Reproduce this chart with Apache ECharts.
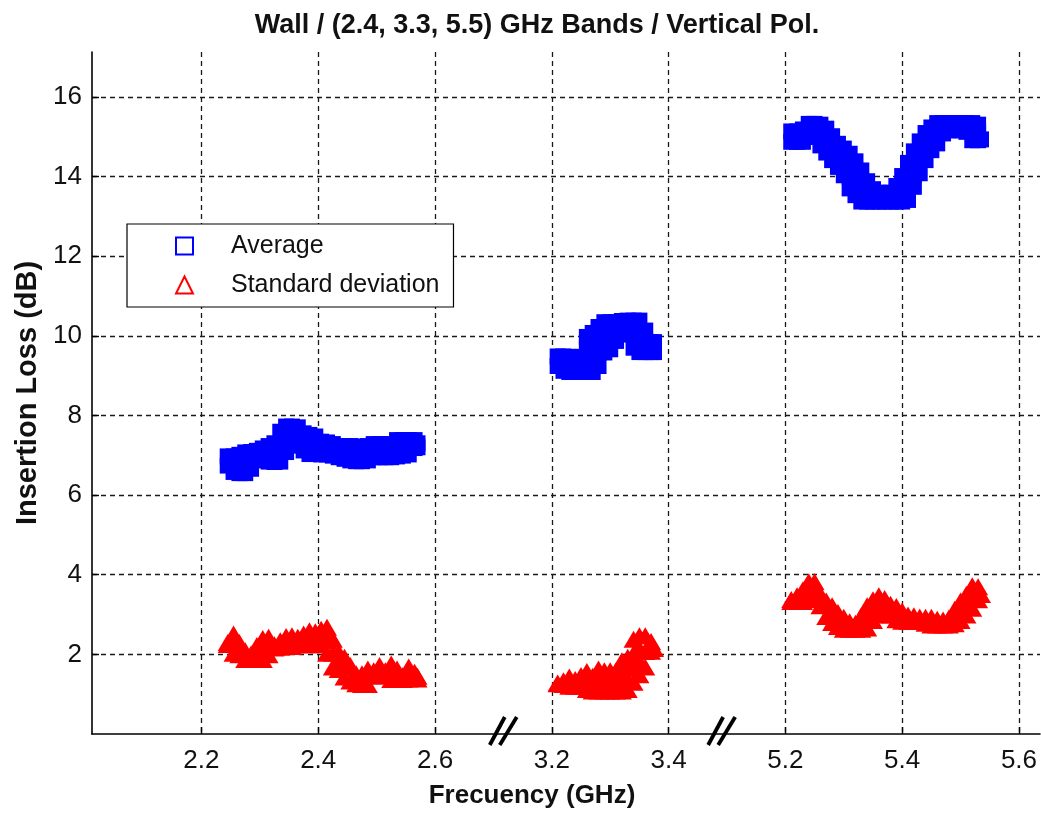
<!DOCTYPE html>
<html>
<head>
<meta charset="utf-8">
<script src="https://cdn.jsdelivr.net/npm/echarts@6/dist/echarts.min.js"></script>
<style>
  html, body { margin: 0; padding: 0; background: #ffffff; }
  #chart { width: 1041px; height: 814px; }
</style>
</head>
<body>
<div id="chart"></div>
<script>
// Broken frequency axis: three bands laid side by side, one axis unit per 0.2 GHz.
const bandStarts = [2.2, 3.2, 5.2];
const bandOffsets = [0, 3, 5];
const tickStep = 0.2;
const tickLabels = ['2.2', '2.4', '2.6', '3.2', '3.4', '5.2', '5.4', '5.6'];
const axisBreaks = [2.58, 4.45];
const yTicks = [2, 4, 6, 8, 10, 12, 14, 16];

// 2.4 GHz band
const freq24 = [2.245, 2.255, 2.265, 2.275, 2.285, 2.295, 2.305, 2.315, 2.325, 2.335,
                2.345, 2.355, 2.365, 2.375, 2.385, 2.395, 2.405, 2.415, 2.425, 2.435,
                2.445, 2.455, 2.465, 2.475, 2.485, 2.495, 2.505, 2.515, 2.525, 2.535,
                2.545, 2.555, 2.565, 2.57];
const avg24 = [[6.74, 6.97], [6.58, 6.97], [6.55, 6.78, 7.01], [6.55, 6.81, 7.07], [6.66, 6.87, 7.08],
               [6.87, 7.11], [6.89, 7.17], [6.84, 7.23], [6.83, 7.06, 7.30], [6.84, 7.22, 7.59],
               [7.08, 7.40, 7.72], [7.24, 7.48, 7.72], [7.33, 7.70], [7.12, 7.34, 7.55], [7.03, 7.27, 7.51],
               [7.03, 7.25, 7.47], [7.02, 7.34], [7.02, 7.32], [6.99, 7.28], [6.95, 7.23],
               [6.91, 7.23], [6.87, 7.23], [6.85, 7.22], [6.85, 7.17], [6.87, 7.23],
               [6.95, 7.28], [6.95, 7.28], [6.95, 7.28], [6.95, 7.26], [6.97, 7.17, 7.38],
               [6.99, 7.38], [7.02, 7.38], [7.18, 7.38], [7.20, 7.30]];
const std24 = [[2.25, 2.30], [2.03, 2.27, 2.51], [1.99, 2.30], [1.87, 2.09], [1.87, 2.01],
               [1.87, 2.22], [1.87, 2.13, 2.40], [1.99, 2.21, 2.43], [2.16, 2.24], [2.18, 2.34],
               [2.20, 2.45], [2.20, 2.47], [2.24, 2.43], [2.24, 2.51], [2.24, 2.59],
               [2.28, 2.57], [2.24, 2.63], [2.03, 2.35, 2.68], [1.68, 2.03, 2.38], [1.62, 1.83, 2.05],
               [1.43, 1.68, 1.93], [1.33, 1.72], [1.26, 1.51], [1.24, 1.51], [1.24, 1.63],
               [1.45, 1.59], [1.49, 1.72], [1.47, 1.59], [1.37, 1.76], [1.37, 1.63],
               [1.37, 1.47], [1.38, 1.68], [1.41, 1.55], [1.38, 1.45]];

// 3.3 GHz band
const freq33 = [3.21, 3.22, 3.23, 3.24, 3.25, 3.26, 3.27, 3.28, 3.29, 3.30,
                3.31, 3.32, 3.33, 3.34, 3.35, 3.36, 3.37, 3.375];
const avg33 = [[9.24, 9.48], [9.12, 9.48], [9.09, 9.47], [9.09, 9.43], [9.09, 9.47],
               [9.09, 9.38, 9.68, 9.97], [9.09, 9.42, 9.75, 10.07], [9.24, 9.57, 9.90, 10.22],
               [9.58, 9.96, 10.34], [9.66, 10.00, 10.34], [9.87, 10.10, 10.34], [10.06, 10.37],
               [10.03, 10.38], [9.70, 10.04, 10.38], [9.59, 9.98, 10.38], [9.59, 9.86, 10.13],
               [9.59, 9.84], [9.59, 9.84]];
const std33 = [[1.26, 1.28], [1.24, 1.34], [1.20, 1.43], [1.20, 1.37], [1.20, 1.47],
               [1.12, 1.35, 1.57], [1.08, 1.27, 1.45], [1.08, 1.36, 1.63], [1.08, 1.34, 1.59],
               [1.08, 1.34, 1.59], [1.08, 1.34, 1.59], [1.08, 1.33, 1.59, 1.84],
               [1.12, 1.39, 1.66, 1.93], [1.30, 1.66, 2.02, 2.38], [1.49, 1.82, 2.14, 2.47],
               [1.68, 2.07, 2.47], [2.08, 2.32], [2.15]];

// 5.5 GHz band
const freq55 = [5.21, 5.22, 5.23, 5.24, 5.25, 5.26, 5.27, 5.28, 5.29, 5.30,
                5.31, 5.32, 5.33, 5.34, 5.35, 5.36, 5.37, 5.38, 5.39, 5.40,
                5.41, 5.42, 5.43, 5.44, 5.45, 5.46, 5.47, 5.48, 5.49, 5.50,
                5.51, 5.52, 5.53, 5.535];
const avg55 = [[14.87, 15.13], [14.87, 15.13], [14.87, 15.18], [15.03, 15.32], [14.99, 15.32],
               [14.78, 15.04, 15.30], [14.60, 14.90, 15.20], [14.41, 14.71, 15.01], [14.24, 14.53, 14.82],
               [14.03, 14.37, 14.70], [13.70, 13.99, 14.28, 14.57], [13.53, 13.81, 14.10, 14.38],
               [13.37, 13.63, 13.89, 14.15], [13.37, 13.63, 13.88], [13.37, 13.68], [13.37, 13.59],
               [13.37, 13.59], [13.37, 13.59], [13.37, 13.56, 13.76], [13.37, 13.58, 13.80, 14.01],
               [13.41, 13.72, 14.03, 14.34], [13.74, 14.04, 14.34, 14.63], [14.08, 14.48, 14.88],
               [14.41, 14.75, 15.09], [14.66, 14.95, 15.23], [14.83, 15.08, 15.34], [15.08, 15.34],
               [15.16, 15.34], [15.16, 15.34], [15.16, 15.34], [15.12, 15.34], [14.91, 15.12, 15.34],
               [14.91, 15.10, 15.30], [14.93]];
const std55 = [[3.33, 3.38], [3.33, 3.47], [3.33, 3.62], [3.37, 3.60, 3.82], [3.38, 3.60, 3.82],
               [3.22, 3.51], [2.95, 3.34], [2.80, 3.01, 3.22], [2.70, 3.05], [2.63, 2.93],
               [2.63, 2.82], [2.63, 2.78], [2.63, 2.97], [2.66, 2.94, 3.22], [2.85, 3.11, 3.37],
               [2.99, 3.23, 3.47], [3.12, 3.40], [2.99, 3.26], [2.87, 3.20], [2.83, 3.09],
               [2.83, 2.99], [2.83, 2.97], [2.83, 2.94], [2.78, 2.93], [2.74, 2.93],
               [2.74, 2.88], [2.74, 2.86], [2.74, 2.91], [2.77, 2.95, 3.13], [2.85, 3.10, 3.34],
               [2.99, 3.25, 3.51], [3.16, 3.44, 3.72], [3.37, 3.70], [3.50]];

const FONT = "'Liberation Sans', Arial, Helvetica, sans-serif";
const INK = '#111111';
const BLUE = '#0000ff';
const RED = '#ff0000';

function toAxis(band, f) {
  return bandOffsets[band] + (f - bandStarts[band]) / tickStep;
}

function buildPoints(bands) {
  const pts = [];
  bands.forEach(function (b, band) {
    b.freq.forEach(function (f, i) {
      b.values[i].forEach(function (v) { pts.push([toAxis(band, f), v]); });
    });
  });
  return pts;
}

const avgPoints = buildPoints([
  { freq: freq24, values: avg24 },
  { freq: freq33, values: avg33 },
  { freq: freq55, values: avg55 }
]);
const stdPoints = buildPoints([
  { freq: freq24, values: std24 },
  { freq: freq33, values: std33 },
  { freq: freq55, values: std55 }
]);

const chart = echarts.init(document.getElementById('chart'), null, { renderer: 'canvas' });

const xTickPositions = tickLabels.map(function (_, i) { return i; });
const gridDash = { color: '#1a1a1a', width: 1.3, type: [5, 4] };

chart.setOption({
  animation: false,
  backgroundColor: '#ffffff',
  title: {
    text: 'Wall / (2.4, 3.3, 5.5) GHz Bands / Vertical Pol.',
    left: 532,
    textAlign: 'center',
    top: 7,
    textStyle: { fontFamily: FONT, fontSize: 27, fontWeight: 'bold', color: INK }
  },
  grid: { left: 92, right: 1, top: 52, bottom: 77, containLabel: false },
  legend: {
    orient: 'vertical',
    left: 127,
    top: 224,
    padding: [9, 14, 9, 48],
    itemGap: 13,
    itemWidth: 17,
    itemHeight: 17,
    backgroundColor: '#ffffff',
    borderColor: '#000000',
    borderWidth: 1.2,
    borderRadius: 0,
    textStyle: { fontFamily: FONT, fontSize: 25, color: INK, lineHeight: 26, padding: [0, 0, 0, 33] },
    data: [
      { name: 'Average', icon: 'emptyRect', itemStyle: { color: BLUE, borderColor: BLUE, borderWidth: 1.6 } },
      { name: 'Standard deviation', icon: 'emptyTriangle', itemStyle: { color: RED, borderColor: RED, borderWidth: 1.6 } }
    ]
  },
  xAxis: {
    type: 'value',
    min: -0.937,
    max: 7.18,
    name: 'Frecuency (GHz)',
    nameLocation: 'middle',
    nameGap: 49,
    nameTextStyle: { fontFamily: FONT, fontSize: 26, fontWeight: 'bold', color: INK, padding: [0, 68, 0, 0] },
    axisLine: { show: true, onZero: false, lineStyle: { color: '#000000', width: 1.6 } },
    axisTick: { show: true, inside: true, length: 7, customValues: xTickPositions, lineStyle: { color: '#000000', width: 1.4 } },
    axisLabel: {
      customValues: xTickPositions,
      margin: 14,
      fontFamily: FONT, fontSize: 26, color: INK,
      formatter: function (v) { return tickLabels[Math.round(v)]; }
    },
    splitLine: { show: true, lineStyle: gridDash }
  },
  yAxis: {
    type: 'value',
    min: 0,
    max: 17.125,
    name: 'Insertion Loss (dB)',
    nameLocation: 'middle',
    nameRotate: 90,
    nameGap: 42,
    nameTextStyle: { fontFamily: FONT, fontSize: 29, fontWeight: 'bold', color: INK },
    axisLine: { show: true, onZero: false, lineStyle: { color: '#000000', width: 1.6 } },
    axisTick: { show: true, inside: true, length: 7, customValues: yTicks, lineStyle: { color: '#000000', width: 1.4 } },
    axisLabel: { customValues: yTicks, margin: 10, fontFamily: FONT, fontSize: 26, color: INK },
    splitLine: { show: true, lineStyle: gridDash }
  },
  series: [
    {
      name: 'Average',
      type: 'scatter',
      symbol: 'rect',
      symbolSize: 16,
      itemStyle: { color: BLUE, opacity: 1 },
      emphasis: { disabled: true },
      data: avgPoints
    },
    {
      name: 'Standard deviation',
      type: 'scatter',
      symbol: 'triangle',
      symbolSize: [20, 17],
      itemStyle: { color: RED, opacity: 1 },
      emphasis: { disabled: true },
      data: stdPoints
    }
  ]
});

// "//" marks where the frequency axis is cut between bands.
const axisY = chart.convertToPixel({ yAxisIndex: 0 }, 0);
const breakGraphics = [];
axisBreaks.forEach(function (pos) {
  const cx = chart.convertToPixel({ xAxisIndex: 0 }, pos);
  [[-13, 2], [-3, 14]].forEach(function (dx) {
    breakGraphics.push({
      type: 'line',
      z: 100,
      shape: { x1: cx + dx[0], y1: axisY + 11, x2: cx + dx[1], y2: axisY - 17 },
      style: { stroke: '#000000', lineWidth: 3.8 }
    });
  });
});
chart.setOption({ graphic: breakGraphics });
</script>
</body>
</html>
